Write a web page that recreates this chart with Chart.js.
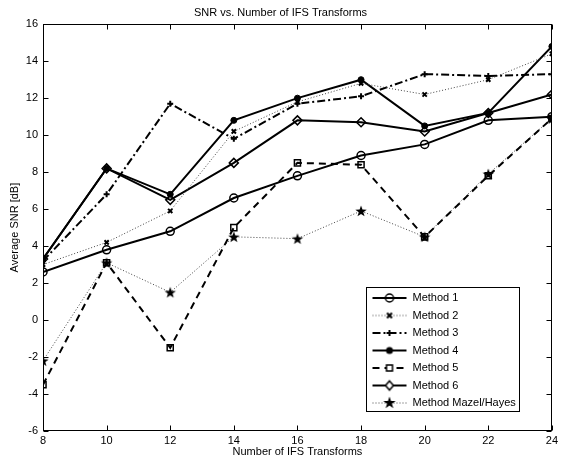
<!DOCTYPE html>
<html><head><meta charset="utf-8">
<script src="https://cdn.jsdelivr.net/npm/chart.js@4/dist/chart.umd.min.js"></script>
<style>html,body{margin:0;padding:0;background:#fff}#wrap{width:561px;height:460px}</style>
</head><body><div id="wrap"><canvas id="c" width="561" height="460"></canvas></div>
<script>
const transforms = [8, 10, 12, 14, 16, 18, 20, 22, 24];
const method1 = [2.6, 3.8, 4.8, 6.6, 7.8, 8.9, 9.5, 10.8, 11.0];
const method2 = [3.0, 4.2, 5.9, 10.2, 11.8, 12.8, 12.2, 13.0, 14.4];
const method3 = [3.2, 6.8, 11.7, 9.8, 11.7, 12.1, 13.3, 13.2, 13.3];
const method4 = [3.3, 8.2, 6.8, 10.8, 12.0, 13.0, 10.5, 11.2, 14.8];
const method5 = [-3.5, 3.1, -1.5, 5.0, 8.5, 8.4, 4.5, 7.8, 10.9];
const method6 = [3.3, 8.2, 6.5, 8.5, 10.8, 10.7, 10.2, 11.2, 12.2];
const mazelHayes = [-2.2, 3.1, 1.5, 4.5, 4.4, 5.9, 4.5, 7.9, 10.9];
const seriesNames = ['Method 1', 'Method 2', 'Method 3', 'Method 4', 'Method 5', 'Method 6', 'Method Mazel/Hayes'];
const xTickLabels = [8, 10, 12, 14, 16, 18, 20, 22, 24];
const yTickLabels = [-6, -4, -2, 0, 2, 4, 6, 8, 10, 12, 14, 16];

const FONT = 'Liberation Sans, Arial, Helvetica, sans-serif';
const LEGEND_PAD = 6.5;

function drawMarker(g, type, cx, cy) {
  g.save();
  g.strokeStyle = '#000'; g.fillStyle = '#000'; g.setLineDash([]);
  g.beginPath();
  if (type === 'circle') { g.lineWidth = 1.5; g.arc(cx, cy, 4, 0, Math.PI * 2); g.stroke(); }
  else if (type === 'x') { g.lineWidth = 2; g.moveTo(cx - 2.5, cy - 2.5); g.lineTo(cx + 2.5, cy + 2.5); g.moveTo(cx + 2.5, cy - 2.5); g.lineTo(cx - 2.5, cy + 2.5); g.stroke(); }
  else if (type === 'plus') { g.lineWidth = 2; g.moveTo(cx - 3, cy); g.lineTo(cx + 3, cy); g.moveTo(cx, cy - 3); g.lineTo(cx, cy + 3); g.stroke(); }
  else if (type === 'dot') { g.arc(cx, cy, 3.5, 0, Math.PI * 2); g.fill(); }
  else if (type === 'square') { g.lineWidth = 1.5; g.fillStyle = '#fff'; g.rect(cx - 3, cy - 3, 6, 6); g.fill(); g.stroke(); }
  else if (type === 'diamond') { g.lineWidth = 1.5; g.fillStyle = '#fff'; g.moveTo(cx, cy - 4.5); g.lineTo(cx + 4, cy); g.lineTo(cx, cy + 4.5); g.lineTo(cx - 4, cy); g.closePath(); g.fill(); g.stroke(); }
  else if (type === 'star') { starPath(g, cx, cy, 6.5, 2.6); g.fill(); }
  g.restore();
}
function starPath(g, cx, cy, ro, ri) {
  for (let i = 0; i < 10; i++) {
    const r = i % 2 === 0 ? ro : ri;
    const a = -Math.PI / 2 + i * Math.PI / 5;
    const px = cx + r * Math.cos(a), py = cy + r * Math.sin(a);
    if (i === 0) g.moveTo(px, py); else g.lineTo(px, py);
  }
  g.closePath();
}
function starCanvas(ro, ri) {
  const c = document.createElement('canvas');
  const s = Math.ceil(ro * 2 + 2); c.width = s; c.height = s;
  const g = c.getContext('2d'); g.fillStyle = '#000'; g.beginPath(); starPath(g, s / 2, s / 2 + 0.5, ro, ri); g.fill();
  return c;
}
function legendIcon(dash, lw, color, marker) {
  const c = document.createElement('canvas'); c.width = 36; c.height = 14;
  const g = c.getContext('2d');
  g.strokeStyle = color; g.lineWidth = lw; g.setLineDash(dash);
  g.beginPath(); g.moveTo(1, 7); g.lineTo(35, 7); g.stroke();
  drawMarker(g, marker, 18, 7);
  return c;
}

const styles = [
  {dash: [], lw: 2, color: '#000', marker: 'circle', ps: 'circle', pr: 4, pbw: 1.5, pbg: 'rgba(0,0,0,0)'},
  {dash: [1, 2], lw: 1, color: '#444', marker: 'x', ps: 'crossRot', pr: 3, pbw: 2, pbg: '#000'},
  {dash: [8, 3, 2, 3], lw: 2, color: '#000', marker: 'plus', ps: 'cross', pr: 3, pbw: 2, pbg: '#000'},
  {dash: [], lw: 2, color: '#000', marker: 'dot', ps: 'circle', pr: 3, pbw: 1, pbg: '#000'},
  {dash: [7, 5], lw: 2, color: '#000', marker: 'square', ps: 'rect', pr: 4.3, pbw: 1.5, pbg: 'rgba(0,0,0,0)'},
  {dash: [], lw: 2, color: '#000', marker: 'diamond', ps: 'rectRot', pr: 4.5, pbw: 1.5, pbg: 'rgba(0,0,0,0)'},
  {dash: [1, 2], lw: 1, color: '#444', marker: 'star', ps: starCanvas(6, 2.4), pr: 6, pbw: 0, pbg: '#000'}
];
const seriesValues = [method1, method2, method3, method4, method5, method6, mazelHayes];
const icons = styles.map(s => legendIcon(s.dash, s.lw, s.color, s.marker));

const datasets = seriesValues.map((vals, i) => {
  const s = styles[i];
  return {
    label: seriesNames[i],
    data: transforms.map((x, j) => ({x: x, y: vals[j]})),
    borderColor: s.color, borderWidth: s.lw, borderDash: s.dash,
    pointStyle: s.ps, pointRadius: s.pr, pointBorderWidth: s.pbw,
    pointBorderColor: '#000', pointBackgroundColor: s.pbg,
    tension: 0, fill: false
  };
});

const frame = {
  id: 'frame',
  afterLayout(chart) {
    const lg = chart.legend;
    if (!lg) return;
    lg.left = 372 - LEGEND_PAD; lg.top = 286; lg.right = lg.left + 170; lg.bottom = lg.top + 300;
  },
  afterDraw(chart) {
    const {ctx, chartArea: a, scales} = chart;
    ctx.save();
    ctx.strokeStyle = '#000'; ctx.lineWidth = 1; ctx.setLineDash([]);
    const L = Math.round(a.left) + 0.5, R = Math.round(a.right) - 0.5, T = Math.round(a.top) + 0.5, B = Math.round(a.bottom) - 0.5;
    ctx.strokeRect(L, T, R - L, B - T);
    ctx.beginPath();
    scales.x.ticks.forEach(t => {
      const px = Math.round(scales.x.getPixelForValue(t.value)) + 0.5;
      ctx.moveTo(px, B); ctx.lineTo(px, B - 5);
      ctx.moveTo(px, T); ctx.lineTo(px, T + 5);
    });
    scales.y.ticks.forEach(t => {
      const py = Math.round(scales.y.getPixelForValue(t.value)) + 0.5;
      ctx.moveTo(L, py); ctx.lineTo(L + 5, py);
      ctx.moveTo(R, py); ctx.lineTo(R - 5, py);
    });
    ctx.stroke();
    // legend frame
    ctx.strokeRect(366.5, 287.5, 153, 124);
    ctx.restore();
  }
};

new Chart(document.getElementById('c'), {
  type: 'line',
  data: {datasets},
  options: {
    responsive: false, animation: false, devicePixelRatio: 1,
    layout: {padding: {left: 0, right: 0, top: 0, bottom: 0}},
    plugins: {
      title: {display: true, text: 'SNR vs. Number of IFS Transforms', color: '#000',
        font: {family: FONT, size: 11, weight: 'normal', lineHeight: 1.2}, padding: {top: 6, bottom: 5}},
      tooltip: {enabled: false},
      legend: {
        position: 'chartArea', align: 'start',
        labels: {
          usePointStyle: true, pointStyleWidth: 35, boxHeight: 11, padding: LEGEND_PAD, color: '#000',
          font: {family: FONT, size: 11},
          generateLabels(chart) {
            return chart.data.datasets.map((ds, i) => ({
              text: ds.label, pointStyle: icons[i], datasetIndex: i, hidden: false,
              lineWidth: 0, strokeStyle: 'rgba(0,0,0,0)', fillStyle: 'rgba(0,0,0,0)', fontColor: '#000'
            }));
          }
        }
      }
    },
    scales: {
      x: {
        type: 'linear', min: 8, max: 24,
        afterBuildTicks(scale) { scale.ticks = xTickLabels.map(v => ({value: v})); },
        afterFit(scale) { scale.height = 29; },
        grid: {display: false, drawTicks: false}, border: {display: false},
        ticks: {color: '#000', padding: 3, font: {family: FONT, size: 11}, maxRotation: 0, autoSkip: false},
        title: {display: true, text: 'Number of IFS Transforms', color: '#000', font: {family: FONT, size: 11}, padding: {top: 0, bottom: 1}}
      },
      y: {
        type: 'linear', min: -6, max: 16,
        afterBuildTicks(scale) { scale.ticks = yTickLabels.map(v => ({value: v})); },
        afterFit(scale) { scale.width = 43; },
        grid: {display: false, drawTicks: false}, border: {display: false},
        ticks: {color: '#000', padding: 5, font: {family: FONT, size: 11}, autoSkip: false},
        title: {display: true, text: 'Average SNR [dB]', color: '#000', font: {family: FONT, size: 11}, padding: {top: 8, bottom: 0}}
      }
    }
  },
  plugins: [frame]
});
</script></body></html>
